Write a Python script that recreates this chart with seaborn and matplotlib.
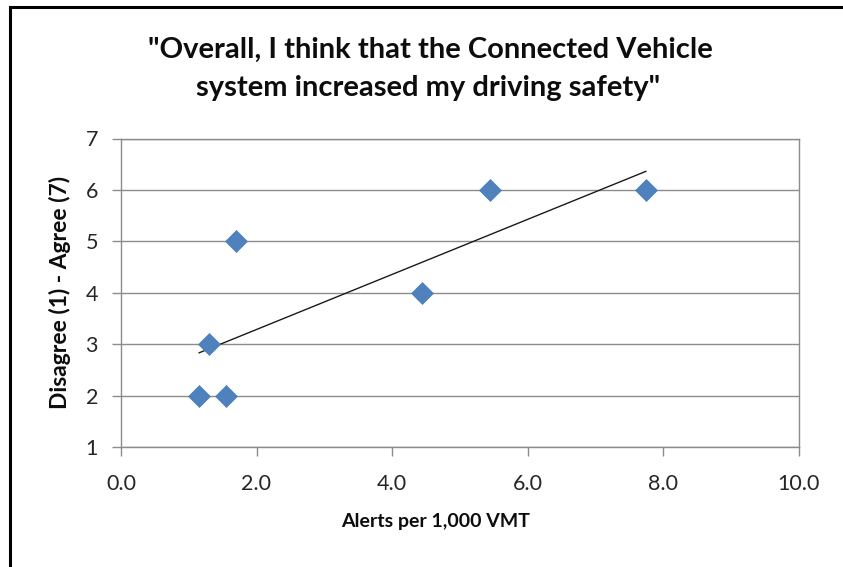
import numpy as np
import pandas as pd
import matplotlib
matplotlib.use("Agg")
import matplotlib.pyplot as plt
from matplotlib.lines import Line2D
import seaborn as sns

# Survey response vs. alert rate for each participant
alerts_per_1000_vmt = [1.15, 1.55, 1.30, 1.70, 4.45, 5.45, 7.75]
agreement_score = [2, 2, 3, 5, 4, 6, 6]

x_ticks = [0.0, 2.0, 4.0, 6.0, 8.0, 10.0]
x_tick_labels = ["0.0", "2.0", "4.0", "6.0", "8.0", "10.0"]
y_ticks = [1, 2, 3, 4, 5, 6, 7]

title_lines = ['"Overall, I think that the Connected Vehicle',
               'system increased my driving safety"']
x_label = "Alerts per 1,000 VMT"
y_label = "Disagree (1) - Agree (7)"

df = pd.DataFrame({"alerts": alerts_per_1000_vmt, "score": agreement_score})

sns.set_theme(style="white")
plt.rcParams["font.family"] = ["Lato", "DejaVu Sans"]

W, H = 843, 567
fig = plt.figure(figsize=(W / 100, H / 100), dpi=100)
fig.patch.set_facecolor("white")

# plot area in pixel coordinates
left, right, top, bottom = 121, 798.5, 138.5, 447
ax = fig.add_axes([left / W, 1 - bottom / H, (right - left) / W, (bottom - top) / H])

grid_color = "#8c8c8c"
ax.set_xlim(0, 10)
ax.set_ylim(1, 7)
ax.set_yticks(y_ticks)
ax.yaxis.grid(True, color=grid_color, linewidth=1.0)
ax.xaxis.grid(False)
ax.set_axisbelow(True)
for side in ["left", "right", "top", "bottom"]:
    ax.spines[side].set_visible(True)
    ax.spines[side].set_color(grid_color)
    ax.spines[side].set_linewidth(1.0)

# linear trend line over the data range
sns.regplot(data=df, x="alerts", y="score", scatter=False, ci=None,
            truncate=True, ax=ax,
            line_kws={"color": "#1a1a1a", "linewidth": 1.0, "zorder": 3})

sns.scatterplot(data=df, x="alerts", y="score", marker="D", s=125,
                color="#4f81bd", edgecolor="#4a7ebb", linewidth=0.5,
                ax=ax, zorder=4, clip_on=False)

ax.set_xticks(x_ticks)
ax.set_xticklabels(x_tick_labels)
ax.tick_params(axis="both", which="both", direction="out", length=6.5,
               width=1.0, color=grid_color, labelsize=15.5,
               labelcolor="#262626")
ax.tick_params(axis="x", pad=13)
ax.tick_params(axis="y", pad=10)
ax.xaxis.set_ticks_position("bottom")
ax.yaxis.set_ticks_position("left")

ax.set_xlabel(x_label, fontsize=14, fontweight="bold", color="#0d0d0d")
ax.xaxis.set_label_coords((436 - left) / (right - left), -(521 - bottom) / (bottom - top))
ax.xaxis.label.set_va("center")
ax.set_ylabel(y_label, fontsize=16.5, fontweight="bold", color="#0d0d0d")
ax.yaxis.set_label_coords(-(left - 60) / (right - left), 0.5)
ax.yaxis.label.set_va("center")

fig.text(430 / W, 1 - 50 / H, title_lines[0], ha="center", va="center",
         fontsize=21, fontweight="bold", color="#0d0d0d")
fig.text(428 / W, 1 - 88 / H, title_lines[1], ha="center", va="center",
         fontsize=21, fontweight="bold", color="#0d0d0d")

# chart area border (left and top edges)
fig.add_artist(Line2D([10 / W, 10 / W], [0, 1 - 7 / H], transform=fig.transFigure,
                      color="black", linewidth=2.2, solid_capstyle="projecting"))
fig.add_artist(Line2D([10 / W, 1], [1 - 7 / H, 1 - 7 / H], transform=fig.transFigure,
                      color="black", linewidth=2.2, solid_capstyle="projecting"))

fig.savefig("out.png", dpi=100, facecolor="white")
